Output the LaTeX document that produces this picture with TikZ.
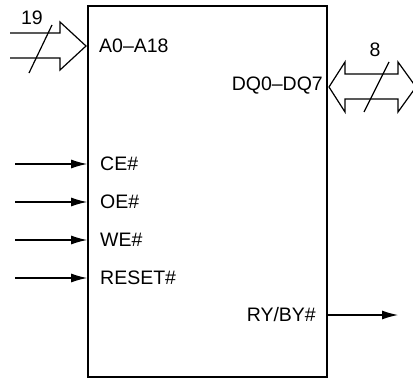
\documentclass[tikz,border=0pt]{standalone}
\usepackage{fontspec}
\setmainfont{Liberation Sans}
\usetikzlibrary{arrows.meta}

\tikzstyle{chip} = [draw, rectangle, line width=1.7pt,
    minimum width=239pt, minimum height=371pt, inner sep=0pt]
\tikzstyle{pin} = [inner sep=0pt, font=\fontsize{19.5}{22}\selectfont]
\tikzstyle{signal} = [line width=1.2pt, -{Latex[length=16pt,width=9pt]}]
\tikzstyle{bus} = [line width=1.2pt, line join=miter]

\begin{document}
\begin{tikzpicture}[x=1pt,y=-1pt]
      \useasboundingbox (0,0) rectangle (413,380);
      \node [chip] (chip) at (207.5,191.5) {};

      % pin names inside the chip
      \node [pin, anchor=west] (addr) at (99,46) {A0--A18};
      \node [pin, anchor=east] (data) at (323,86) {DQ0--DQ7};
      \node [pin, anchor=west] (ce) at (100,164) {CE\#};
      \node [pin, anchor=west] (oe) at (100,202) {OE\#};
      \node [pin, anchor=west] (we) at (100,240) {WE\#};
      \node [pin, anchor=west] (reset) at (100,278) {RESET\#};
      \node [pin, anchor=east] (ready) at (316,315) {RY/BY\#};

      \coordinate (ce in) at (15,164);
      \coordinate (oe in) at (15,202);
      \coordinate (we in) at (15,240);
      \coordinate (reset in) at (15,278);
      \coordinate (ready out) at (398,315);

      \draw [signal] (ce in) -- (ce.west -| chip.west);
      \draw [signal] (oe in) -- (oe.west -| chip.west);
      \draw [signal] (we in) -- (we.west -| chip.west);
      \draw [signal] (reset in) -- (reset.west -| chip.west);
      \draw [signal] (ready.east -| chip.east) -- (ready out);

      % address bus
      \draw [bus] (10,33) -- (60,33) -- (60,22) -- (86,46) -- (60,70) -- (60,58) -- (10,58);
      \draw [bus] (29,73) -- (52,25);
      \node [pin] (addr width) at (32,18) {19};

      % data bus
      \draw [bus] (329,87) -- (345,62) -- (345,74) -- (398,74) -- (398,62) -- (416,87)
          -- (398,112) -- (398,99) -- (345,99) -- (345,112) -- cycle;
      \draw [bus] (364,112) -- (389,62);
      \node [pin] (data width) at (375,50) {8};
\end{tikzpicture}
\end{document}
